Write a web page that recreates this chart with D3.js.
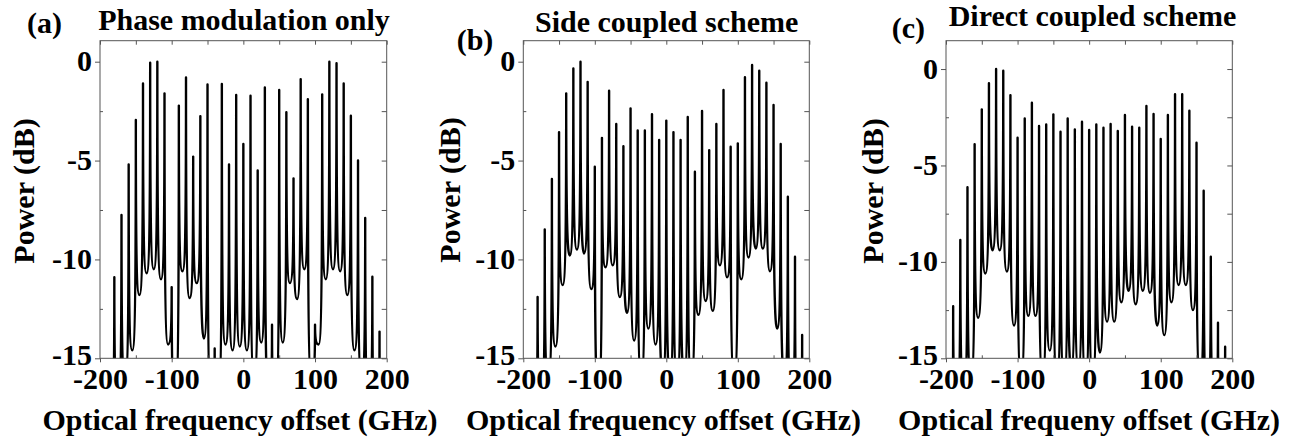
<!DOCTYPE html>
<html><head><meta charset="utf-8">
<script src="https://cdn.jsdelivr.net/npm/d3@7"></script>
<style>
body{margin:0;background:#fff;}
svg text{font-family:"Liberation Serif","Times New Roman",serif;font-weight:bold;fill:#000;}
</style></head>
<body><svg id="c" width="1303" height="447"></svg>
<script>
// ---------- data ----------
const peakFreqs = [-190,-180,-170,-160,-150,-140,-130,-120,-110,-100,-90,-80,-70,-60,-50,-40,-30,-20,-10,0,10,20,30,40,50,60,70,80,90,100,110,120,130,140,150,160,170,180,190];
const valleyFreqs = [-195,-185,-175,-165,-155,-145,-135,-125,-115,-105,-95,-85,-75,-65,-55,-45,-35,-25,-15,-5,5,15,25,35,45,55,65,75,85,95,105,115,125,135,145,155,165,175,185,195];

const peaksA = [-17,-10.9,-7.75,-5.2,-2.95,-1.1,-0.05,0,-1.6,-11.4,-2.22,-0.8,-4.8,-2.75,-1.15,-14.5,-1.13,-5.2,-1.68,-4.16,-1.72,-5.5,-1.3,-13.3,-1.43,-2.56,-5.9,-0.88,-1.9,-13.3,-1.65,0,-0.08,-1.1,-2.73,-5.0,-7.9,-10.87,-13.65];
const valleysA = [-20,-18,-17,-16,-14.6,-11.8,-10.7,-10.5,-11.0,-14.3,-17,-10.6,-11.95,-11.2,-14.0,-17,-17,-14.3,-14.6,-14.4,-14.6,-16,-14.2,-17,-17,-14.2,-11.2,-12.0,-10.5,-16,-14.3,-11.0,-10.5,-10.6,-11.8,-14.6,-16,-17,-18,-20];

const peaksB = [-16,-11.9,-8.48,-5.93,-3.56,-1.6,-0.34,0,-1.02,-5.31,-3.85,-1.47,-3.15,-4.27,-2.36,-3.48,-3.48,-2.65,-3.96,-2.98,-3.56,-3.96,-2.8,-5.56,-2.49,-4.47,-3.15,-1.43,-4.3,-4.13,-0.79,-0.17,-0.46,-1.06,-2.19,-4.16,-6.83,-9.86,-13.82];
const valleysB = [-20,-18,-17,-16,-14.4,-11.3,-9.8,-9.5,-9.7,-11.5,-17,-10.4,-10.3,-11.9,-12.7,-14.1,-16,-13.5,-14.3,-16,-16,-16,-16,-16,-12.8,-12.1,-12.6,-10.3,-10.9,-16,-11.0,-9.9,-9.45,-9.45,-10.6,-13.5,-16,-17,-18,-20];

const peaksC = [-12.3,-8.86,-6.13,-3.9,-2.09,-0.74,0,-0.09,-1.35,-3.56,-2.56,-1.75,-2.95,-2.87,-2.35,-3.25,-2.56,-3.13,-2.73,-3.16,-2.87,-3.04,-2.85,-3.21,-2.38,-2.99,-3.04,-1.92,-2.33,-3.63,-2.38,-1.31,-1.31,-2.16,-3.82,-6.31,-9.73,-13.15,-14.4];
const valleysC = [-20,-17,-16.5,-16,-12.9,-10.6,-9.4,-9.4,-10.5,-13.3,-16,-12.8,-12.8,-16,-14.6,-16,-16,-15.5,-15.5,-16,-16,-14.7,-13.1,-13.1,-12.1,-11.5,-12.2,-11.5,-11.6,-13.3,-13.8,-12.1,-11.2,-11.2,-12.5,-16,-17,-17,-18,-20];

const xTicks = [-200,-100,0,100,200];
const xMinor = [-150,-50,50,150];
const yTicks = [0,-5,-10,-15];
const yMinor = [-2.5,-7.5,-12.5];
const titles = ["Phase modulation only","Side coupled scheme","Direct coupled scheme"];
const tags = ["(a)","(b)","(c)"];
const xTitles = ["Optical frequency offset (GHz)","Optical frequency offset (GHz)","Optical frequeny offset (GHz)"];
const yTitle = "Power (dB)";
const xDomain = [-200,200];
const yDomains = [[-15,1.062],[-15,1.062],[-15,1.47]];

// ---------- layout ----------
const layout = [
  {x0:100, x1:386.7, top:40.7, bot:358.3, titleX:244, titleY:30, tagX:27, tagY:33, yLabX:34, yLabY:191, xLabX:240},
  {x0:523.3, x1:809.3, top:40.7, bot:358.3, titleX:666.7, titleY:32, tagX:456.7, tagY:50, yLabX:460, yLabY:190, xLabX:663.5},
  {x0:946, x1:1232.3, top:40.7, bot:358.3, titleX:1092.5, titleY:26, tagX:891.7, tagY:38, yLabX:883, yLabY:191, xLabX:1089}
];
const peaksAll = [peaksA, peaksB, peaksC];
const valleysAll = [valleysA, valleysB, valleysC];
const fmt = d => String(d);   // plain hyphen-minus, as in the reference

// cusp curve: steep Lorentzian-like spikes, rounded valleys
function cuspCurve(context){
  let pts;
  return {
    areaStart(){}, areaEnd(){},
    lineStart(){ pts = []; },
    point(x,y){ pts.push([+x,+y]); },
    lineEnd(){
      if(!pts.length) return;
      context.moveTo(pts[0][0], pts[0][1]);
      for(let i=1;i<pts.length;i++){
        const a = pts[i-1], b = pts[i];
        if(i % 2 === 0){ // from peak a down to valley b
          context.bezierCurveTo(a[0], a[1] + 0.8*(b[1]-a[1]), a[0] + 0.35*(b[0]-a[0]), b[1], b[0], b[1]);
        } else { // from valley a up to peak b
          context.bezierCurveTo(b[0] - 0.35*(b[0]-a[0]), a[1], b[0], b[1] + 0.8*(a[1]-b[1]), b[0], b[1]);
        }
      }
    }
  };
}

const svg = d3.select("#c");
const frameColor = "#555";

layout.forEach((L, k) => {
  const x = d3.scaleLinear().domain(xDomain).range([L.x0, L.x1]);
  const y = d3.scaleLinear().domain(yDomains[k]).range([L.bot, L.top]);
  const g = svg.append("g");

  const pts = [];
  valleysAll[k].forEach((v, i) => {
    pts.push({f: valleyFreqs[i], p: v});
    if (i < peakFreqs.length) pts.push({f: peakFreqs[i], p: peaksAll[k][i]});
  });

  const clipId = "clip" + k;
  svg.append("clipPath").attr("id", clipId).append("rect")
    .attr("x", L.x0).attr("y", L.top).attr("width", L.x1 - L.x0).attr("height", L.bot - L.top);

  g.append("path").datum(pts)
    .attr("clip-path", `url(#${clipId})`)
    .attr("fill", "none").attr("stroke", "#000").attr("stroke-width", 2.4)
    .attr("stroke-linejoin", "round")
    .attr("d", d3.line().x(d => x(d.f)).y(d => y(d.p)).curve(cuspCurve));

  g.append("rect").attr("x", L.x0).attr("y", L.top).attr("width", L.x1 - L.x0).attr("height", L.bot - L.top)
    .attr("fill", "none").attr("stroke", frameColor).attr("stroke-width", 1);

  const xb = g.append("g").attr("transform", `translate(0,${L.bot})`)
    .call(d3.axisBottom(x).tickValues(xTicks).tickSize(4).tickPadding(5).tickFormat(fmt));
  xb.select(".domain").remove();
  xb.selectAll("line").attr("stroke", frameColor);
  xb.selectAll("text").attr("font-size", 30).attr("dy", "0.71em");
  const xbm = g.append("g").attr("transform", `translate(0,${L.bot})`)
    .call(d3.axisBottom(x).tickValues(xMinor).tickSize(-3).tickFormat(""));
  xbm.select(".domain").remove();
  xbm.selectAll("line").attr("stroke", frameColor);

  const xt = g.append("g").attr("transform", `translate(0,${L.top})`)
    .call(d3.axisTop(x).tickValues(xTicks.concat(xMinor)).tickSize(-4).tickFormat(""));
  xt.select(".domain").remove();
  xt.selectAll("line").attr("stroke", frameColor);

  const yl = g.append("g").attr("transform", `translate(${L.x0},0)`)
    .call(d3.axisLeft(y).tickValues(yTicks).tickSize(5).tickPadding(3).tickFormat(fmt));
  yl.select(".domain").remove();
  yl.selectAll("line").attr("stroke", frameColor);
  yl.selectAll("text").attr("font-size", 30).attr("dy", d => d === -15 ? "0.2em" : "0.3em");
  const ylm = g.append("g").attr("transform", `translate(${L.x0},0)`)
    .call(d3.axisLeft(y).tickValues(yMinor).tickSize(-3).tickFormat(""));
  ylm.select(".domain").remove();
  ylm.selectAll("line").attr("stroke", frameColor);

  const yr = g.append("g").attr("transform", `translate(${L.x1},0)`)
    .call(d3.axisRight(y).tickValues(yTicks.concat(yMinor)).tickSize(-5).tickFormat(""));
  yr.select(".domain").remove();
  yr.selectAll("line").attr("stroke", frameColor);

  g.append("text").attr("x", L.titleX).attr("y", L.titleY).attr("text-anchor", "middle")
    .attr("font-size", 30).text(titles[k]);
  g.append("text").attr("x", L.tagX).attr("y", L.tagY).attr("font-size", 30).text(tags[k]);
  g.append("text").attr("x", L.xLabX).attr("y", 430).attr("text-anchor", "middle")
    .attr("font-size", 30).text(xTitles[k]);
  g.append("text").attr("transform", `translate(${L.yLabX},${L.yLabY}) rotate(-90)`)
    .attr("text-anchor", "middle").attr("font-size", 30).text(yTitle);
});
</script></body></html>
